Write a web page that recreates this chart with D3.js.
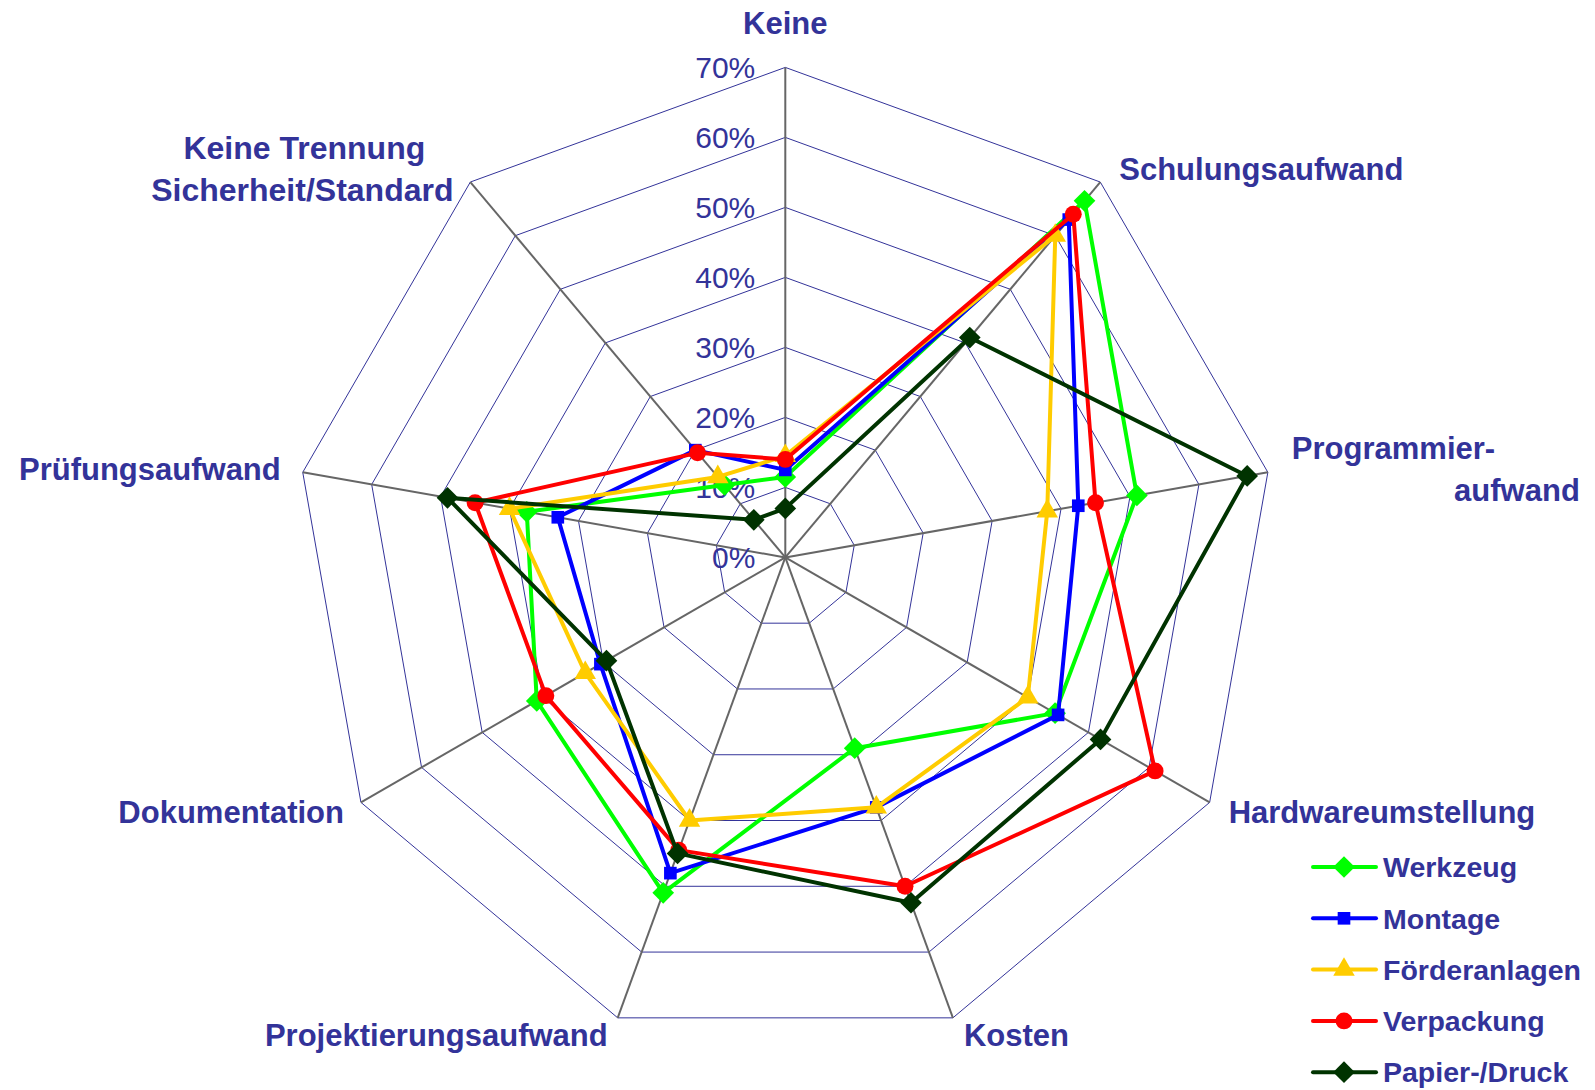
<!DOCTYPE html>
<html>
<head>
<meta charset="utf-8">
<script src="https://cdn.jsdelivr.net/npm/d3@7"></script>
<style>
  body { margin: 0; background: #fff; }
  text { font-family: "Liberation Sans", Arial, sans-serif; fill: #333399; }
</style>
</head>
<body>
<script>
// axes (clockwise from top)
const categories = ["Keine", "Schulungsaufwand", "Programmieraufwand", "Hardwareumstellung",
  "Kosten", "Projektierungsaufwand", "Dokumentation", "Prüfungsaufwand",
  "Keine Trennung Sicherheit/Standard"]
const categoryLines = [["Keine"], ["Schulungsaufwand"], ["Programmier-", "aufwand"],
  ["Hardwareumstellung"], ["Kosten"], ["Projektierungsaufwand"], ["Dokumentation"],
  ["Prüfungsaufwand"], ["Keine Trennung", "Sicherheit/Standard"]]

const seriesNames = ["Werkzeug", "Montage", "Förderanlagen", "Verpackung", "Papier-/Druck"]

// values in % per axis
const werkzeug      = [11.5, 66.5, 51, 44.5, 29,   51,   41,   37.5, 13.5]
const montage       = [12.5, 63,   42.5, 45, 38,   48,   30.5, 33,   20]
const foerderanlagen= [14.5, 60,   38,   40, 38,   40,   33,   40,   15]
const verpackung    = [14,   64,   45,   61, 50,   44.5, 39.5, 45,   19.5]
const papierDruck   = [7,    41,   67,   52, 52.5, 45,   29.5, 49,   7]

const tickValues = [0, 10, 20, 30, 40, 50, 60, 70]

const allSeries = [werkzeug, montage, foerderanlagen, verpackung, papierDruck]
const colors = ["#00ff00", "#0000ff", "#ffcc00", "#ff0000", "#003300"]
const symbols = [d3.symbolDiamond2, d3.symbolSquare, d3.symbolTriangle, d3.symbolCircle, d3.symbolDiamond2]
const symSizes = [300, 160, 200, 225, 300]

const width = 1595, height = 1090
const cx = 785.3, cy = 557.4, R = 490

const svg = d3.select("body").append("svg").attr("width", width).attr("height", height)
const g = svg.append("g").attr("transform", `translate(${cx},${cy})`)

const r = d3.scaleLinear().domain([0, 70]).range([0, R])
const angle = d3.scalePoint().domain(d3.range(categories.length + 1)).range([0, 2 * Math.PI])
const ang = i => angle(i)
const px = (i, v) => r(v) * Math.sin(ang(i))
const py = (i, v) => -r(v) * Math.cos(ang(i))

// rings
const ring = d3.lineRadial().angle((d, i) => ang(i)).radius(d => r(d)).curve(d3.curveLinearClosed)
tickValues.filter(t => t > 0).forEach(t => {
  g.append("path").attr("d", ring(categories.map(() => t)))
    .attr("fill", "none").attr("stroke", "#333399").attr("stroke-width", 1)
})

// spokes
g.selectAll(".spoke").data(categories).enter().append("line")
  .attr("x1", 0).attr("y1", 0)
  .attr("x2", (d, i) => px(i, 70)).attr("y2", (d, i) => py(i, 70))
  .attr("stroke", "#666666").attr("stroke-width", 2)

// tick labels
g.selectAll(".tick").data(tickValues).enter().append("text")
  .attr("x", -30).attr("y", d => -r(d)).attr("dy", "0.36em")
  .attr("text-anchor", "end").attr("font-size", 30)
  .text(d => d + "%")

// series
const line = d3.lineRadial().angle((d, i) => ang(i)).radius(d => r(d)).curve(d3.curveLinearClosed)
allSeries.forEach((vals, s) => {
  g.append("path").attr("d", line(vals))
    .attr("fill", "none").attr("stroke", colors[s]).attr("stroke-width", 4)
    .attr("stroke-linejoin", "round")
  g.selectAll(".m" + s).data(vals).enter().append("path")
    .attr("d", d3.symbol(symbols[s], symSizes[s]))
    .attr("transform", (d, i) => `translate(${px(i, d)},${py(i, d)})`)
    .attr("fill", colors[s])
})

// axis labels: offsets relative to spoke end
const labelLayout = [
  [{dx: 0, dy: -45, a: "middle"}],
  [{dx: 19, dy: -13, a: "start"}],
  [{dx: 24, dy: -24, a: "start"}, {dx: 312, dy: 18, a: "end"}],
  [{dx: 19, dy: 9, a: "start"}],
  [{dx: 11, dy: 17, a: "start"}],
  [{dx: -10, dy: 17, a: "end"}],
  [{dx: -17, dy: 9, a: "end"}],
  [{dx: -22, dy: -3, a: "end"}],
  [{dx: -166, dy: -35, a: "middle"}, {dx: -168, dy: 7, a: "middle"}]
]
categoryLines.forEach((lines, i) => {
  lines.forEach((txt, k) => {
    const L = labelLayout[i][k]
    const t = g.append("text")
      .attr("x", px(i, 70) + L.dx).attr("y", py(i, 70) + L.dy).attr("dy", "0.36em")
      .attr("text-anchor", L.a).attr("font-size", 31).attr("font-weight", "bold")
      .text(txt)
    if (i === 8) t.attr("font-size", 32)
  })
})

// legend
const leg = svg.append("g").attr("transform", "translate(1313,867)")
seriesNames.forEach((name, s) => {
  const row = leg.append("g").attr("transform", `translate(0,${s * 51.3})`)
  row.append("line").attr("x1", 0).attr("x2", 63).attr("y1", 0).attr("y2", 0)
    .attr("stroke", colors[s]).attr("stroke-width", 4).attr("stroke-linecap", "round")
  row.append("path").attr("d", d3.symbol(symbols[s], symSizes[s]))
    .attr("transform", "translate(31,0)").attr("fill", colors[s])
  row.append("text").attr("x", 70).attr("y", 0).attr("dy", "0.36em")
    .attr("font-size", 28.5).attr("font-weight", "bold").text(name)
})
</script>
</body>
</html>
